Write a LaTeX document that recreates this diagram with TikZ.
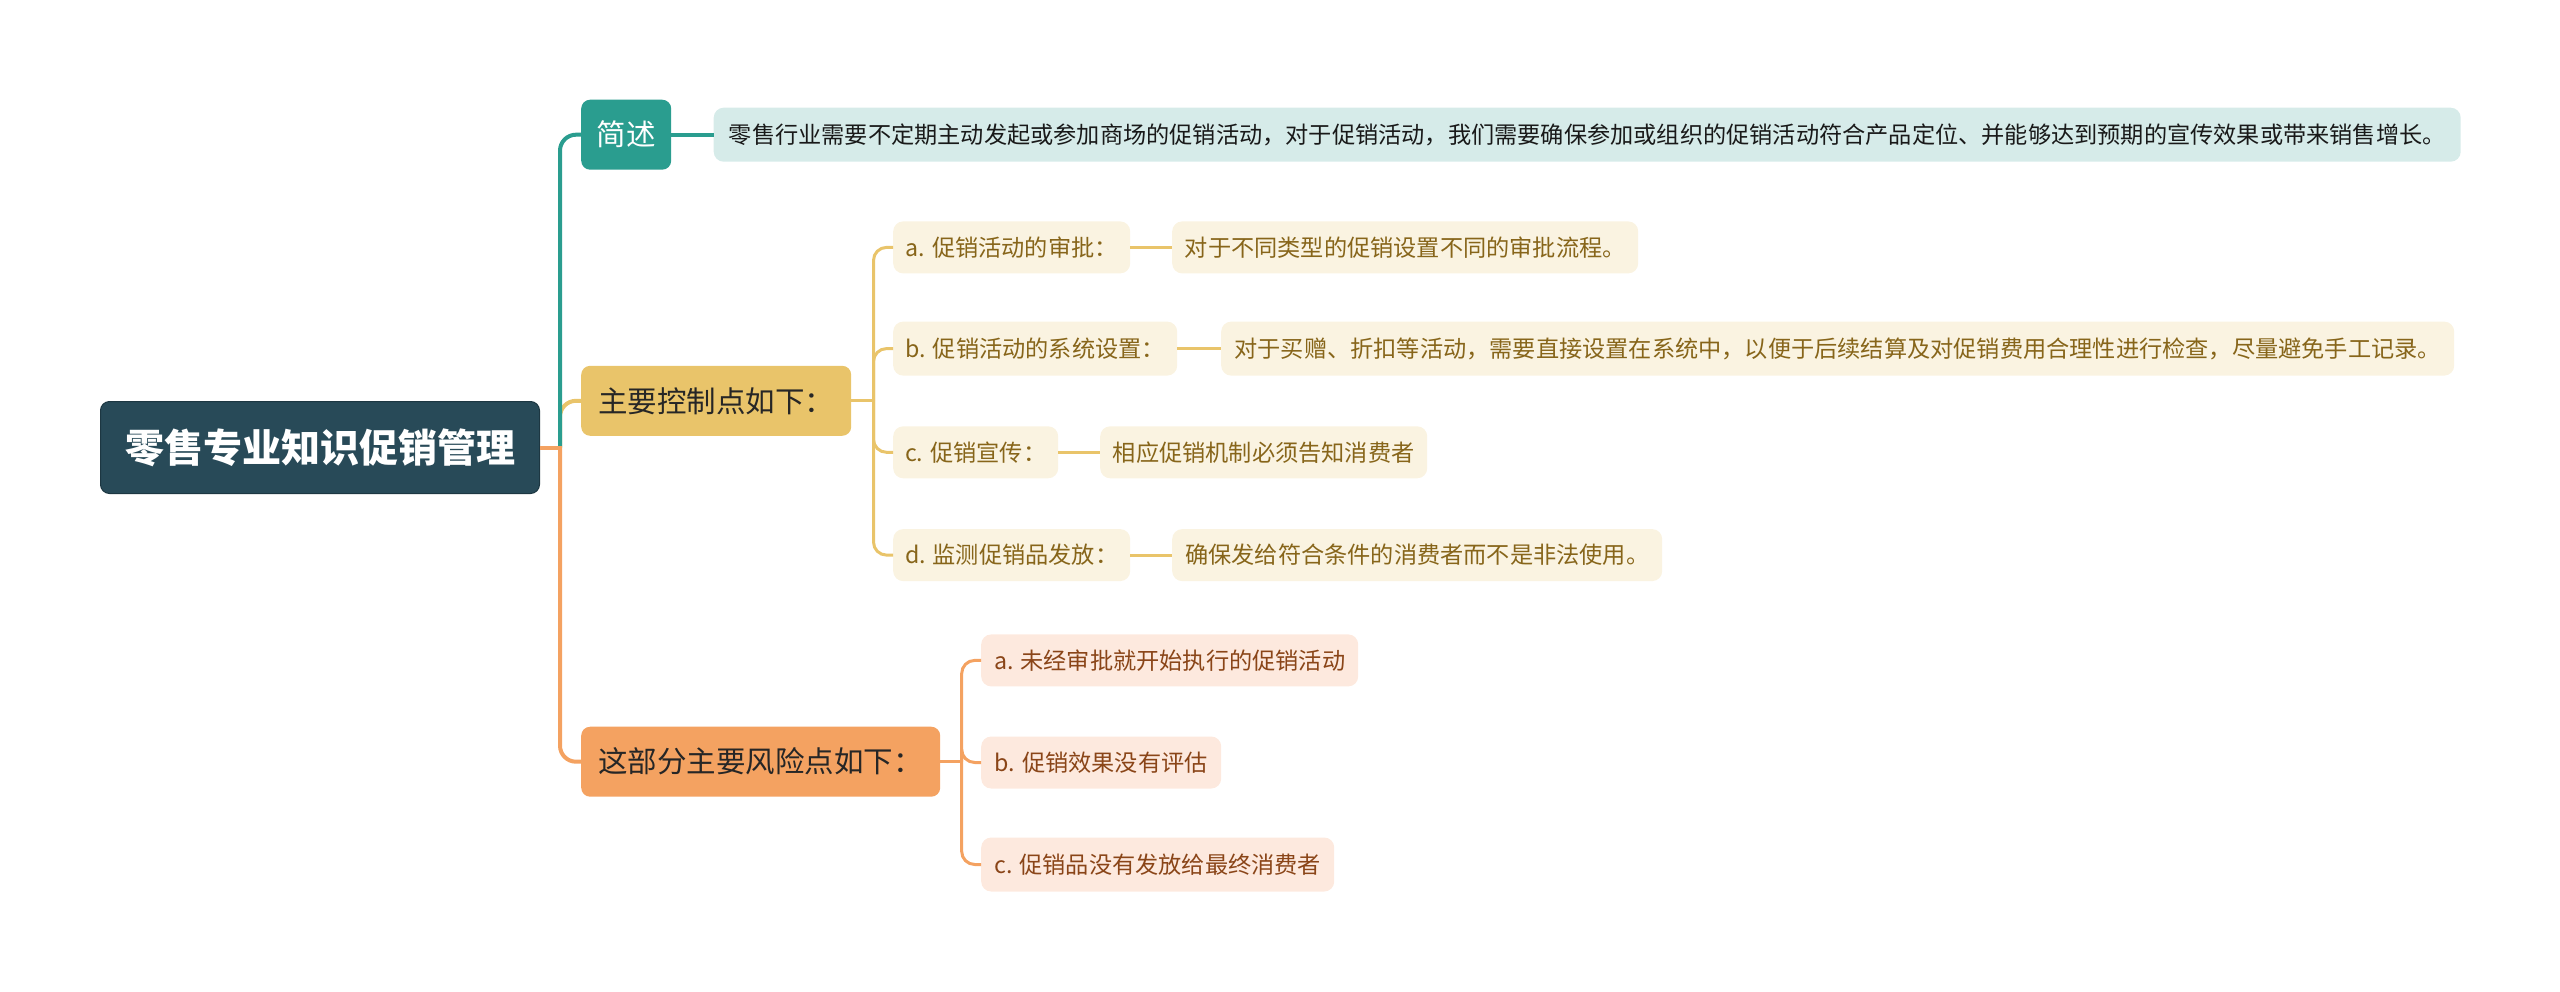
\documentclass[tikz,border=0pt]{standalone}
\usepackage{fontspec}
\setmainfont{Noto Sans CJK SC}
\newfontfamily\cjk{Noto Sans CJK SC}
\definecolor{rootc}{HTML}{284A58}
\definecolor{rootd}{HTML}{1D3742}
\definecolor{teal}{HTML}{2A9D8F}
\definecolor{teallt}{HTML}{D6EBE9}
\definecolor{yel}{HTML}{E9C46A}
\definecolor{yellt}{HTML}{FAF3E1}
\definecolor{yeltx}{HTML}{87651A}
\definecolor{ora}{HTML}{F4A261}
\definecolor{oralt}{HTML}{FDE9DE}
\definecolor{oratx}{HTML}{8A4518}
\tikzset{
 base/.style={rounded corners=9pt, inner sep=0pt, align=center, anchor=west},
 rootnode/.style={base, fill=rootc, draw=rootd, line width=1pt, minimum width=439pt, minimum height=92pt, text=white, font=\cjk\bfseries\fontsize{39}{45}\selectfont},
 lvone/.style={base, minimum height=70pt, font=\cjk\fontsize{29.5}{34}\selectfont},
 lvtwo/.style={base, minimum height=52pt, rounded corners=10pt, font=\cjk\fontsize{23.2}{28}\selectfont},
 yelnode/.style={lvtwo, fill=yellt, text=yeltx},
 oranode/.style={lvtwo, fill=oralt, text=oratx},
 link/.style={line width=4pt, rounded corners=16pt},
 sublink/.style={line width=3pt, rounded corners=13pt},
}
\begin{document}
\begin{tikzpicture}[x=1pt,y=-1pt]
\useasboundingbox (0,0) rectangle (2560,991);
% root
\node[rootnode] (root) at (100,447.5) {零售专业知识促销管理};
% level one
\node[lvone, fill=teal, text=white, minimum width=90pt] (jianshu) at (581,134.7) {简述};
\node[lvone, fill=yel, text=black!85, minimum width=270pt] (kongzhi) at (581,400.8) {主要控制点如下：};
\node[lvone, fill=ora, text=black!85, minimum width=359pt] (fengxian) at (581,761.7) {这部分主要风险点如下：};
% description
\node[lvtwo, fill=teallt, text=black!90, minimum width=1747pt, minimum height=54pt] (desc) at (713.5,134.7) {零售行业需要不定期主动发起或参加商场的促销活动，对于促销活动，我们需要确保参加或组织的促销活动符合产品定位、并能够达到预期的宣传效果或带来销售增长。};
% control points
\node[yelnode, minimum width=237pt] (ka) at (893,247.4) {a. 促销活动的审批：};
\node[yelnode, minimum width=466pt] (kad) at (1172,247.4) {对于不同类型的促销设置不同的审批流程。};
\node[yelnode, minimum width=284pt, minimum height=54pt] (kb) at (893,348.6) {b. 促销活动的系统设置：};
\node[yelnode, minimum width=1233pt, minimum height=54pt] (kbd) at (1221,348.6) {对于买赠、折扣等活动，需要直接设置在系统中，以便于后续结算及对促销费用合理性进行检查，尽量避免手工记录。};
\node[yelnode, minimum width=165pt] (kc) at (893,452.3) {c. 促销宣传：};
\node[yelnode, minimum width=327pt] (kcd) at (1100,452.3) {相应促销机制必须告知消费者};
\node[yelnode, minimum width=237pt] (kd) at (893,555.1) {d. 监测促销品发放：};
\node[yelnode, minimum width=490pt] (kdd) at (1172,555.1) {确保发给符合条件的消费者而不是非法使用。};
% risks
\node[oranode, minimum width=377pt] (ra) at (981,660.4) {a. 未经审批就开始执行的促销活动};
\node[oranode, minimum width=240pt] (rb) at (981,762.5) {b. 促销效果没有评估};
\node[oranode, minimum width=353pt, minimum height=54pt] (rc) at (981,864.5) {c. 促销品没有发放给最终消费者};
% connectors level one
\coordinate (trunk) at (560,447.5);
\draw[link, yel] (trunk) |- (kongzhi.west);
\draw[link, teal] (trunk) |- (jianshu.west);
\draw[link, ora] (trunk) |- (fengxian.west);
\draw[line width=4pt, ora] (root.east) -- ([xshift=2pt]trunk);
\draw[link, teal] (jianshu.east) -- (desc.west);
% connectors level two
\coordinate (trunkk) at (873.5,400.8);
\draw[line width=3pt, yel] (kongzhi.east) -- ([xshift=1.5pt]trunkk);
\foreach \c in {ka,kb,kc,kd}{
  \draw[sublink, yel] (trunkk) |- (\c.west);
}
\draw[sublink, yel] (ka.east) -- (kad.west);
\draw[sublink, yel] (kb.east) -- (kbd.west);
\draw[sublink, yel] (kc.east) -- (kcd.west);
\draw[sublink, yel] (kd.east) -- (kdd.west);
\coordinate (trunkr) at (961.7,761.7);
\draw[line width=3pt, ora] (fengxian.east) -- ([xshift=1.5pt]trunkr);
\foreach \c in {ra,rb,rc}{
  \draw[sublink, ora] (trunkr) |- (\c.west);
}
\end{tikzpicture}
\end{document}
